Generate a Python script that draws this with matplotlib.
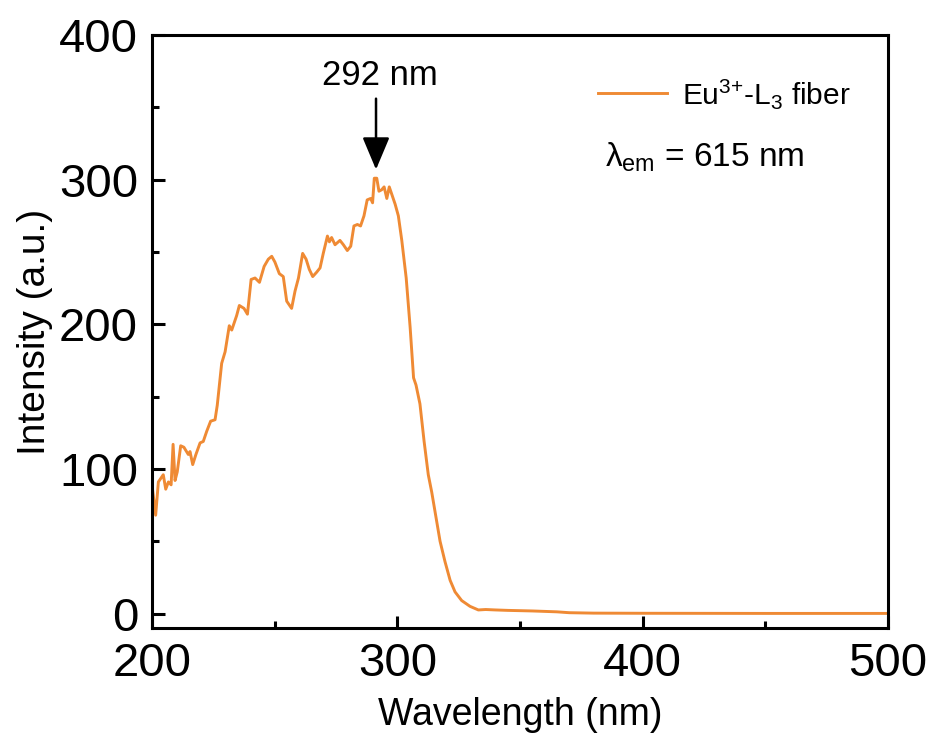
import matplotlib.pyplot as plt
from matplotlib.ticker import MultipleLocator

plt.rcParams['font.family'] = ['Liberation Sans', 'DejaVu Sans']
plt.rcParams['mathtext.fontset'] = 'custom'
plt.rcParams['mathtext.rm'] = 'Liberation Sans'
plt.rcParams['mathtext.it'] = 'Liberation Sans'

# excitation spectrum
wavelength = [200, 201.5, 202.6, 204.6, 205.6, 206.7, 207.8, 208.6, 209.4, 210.3,
              211.7, 213, 214.8, 215.5, 216.6, 217.9, 219.6, 220.9, 222.3, 223.9,
              225.7, 226.6, 228.4, 229.8, 231.5, 232.5, 234.5, 235.6, 237.5, 238.9,
              240.4, 242, 243.8, 245.7, 247.4, 248.8, 250.1, 251.9, 253.5, 254.9,
              256.9, 258.3, 259.7, 261.4, 262.8, 264.1, 265.5, 267.1, 268.5, 269.8,
              271.5, 272.3, 273.2, 274.6, 276.6, 278, 279.6, 281, 282.3, 283.7,
              285, 286.4, 287.7, 289.1, 289.9, 290.6, 291.6, 292.5, 293.6, 294.6,
              295.7, 296.7, 297.7, 299.1, 300.4, 301.8, 303.6, 305.2, 306.6, 307.6,
              309.2, 310.9, 312.6, 314, 315.8, 317.4, 319.4, 321.5, 323.5, 326.2,
              329.6, 333, 336, 340, 345, 350, 355, 360, 365, 370,
              380, 400, 450, 500]
intensity = [89, 68, 91, 96, 86, 91, 89, 117, 92, 98,
             116, 115, 110, 112, 103, 110, 118, 119, 126, 133,
             134, 144, 173, 181, 199, 196, 206, 213, 211, 207,
             231, 232, 229, 240, 245, 247, 243, 235, 233, 216,
             211, 223, 232, 249, 245, 238, 233, 236, 239, 249,
             261, 257, 260, 255, 258, 255, 251, 254, 268, 269,
             268, 275, 286, 287, 284, 301, 301, 292, 293, 295,
             287, 295, 290, 283, 275, 258, 232, 198, 163, 158,
             145, 119, 96, 84, 66, 50, 36, 23, 15, 9,
             5, 2.5, 2.8, 2.5, 2.2, 2.0, 1.8, 1.5, 1.2, 0.6,
             0.3, 0.2, 0.1, 0.1]

fig = plt.figure(figsize=(9.29, 7.42), dpi=100)
ax = fig.add_axes([0.1636, 0.1536, 0.7924, 0.7992])

ax.plot(wavelength, intensity, color='#EF8A34', lw=2.1, label='Eu$^{3{+}}$-L$_3$ fiber')

ax.set_xlim(200, 500)
ax.set_ylim(-10, 400)
ax.xaxis.set_major_locator(MultipleLocator(100))
ax.xaxis.set_minor_locator(MultipleLocator(50))
ax.yaxis.set_major_locator(MultipleLocator(100))
ax.yaxis.set_minor_locator(MultipleLocator(50))
ax.tick_params(which='both', direction='in', width=2.2, labelsize=34, pad=10)
ax.tick_params(which='major', length=9)
ax.tick_params(which='minor', length=5)
for s in ax.spines.values():
    s.set_linewidth(2.2)

ax.set_xlabel('Wavelength (nm)', fontsize=27, labelpad=8)
ax.set_ylabel('Intensity (a.u.)', fontsize=28, labelpad=4)

# peak marker
ax.text(293, 372, '292 nm', fontsize=25, ha='center', va='center')
ax.annotate('', xy=(291.3, 307), xytext=(291.3, 356),
            arrowprops=dict(arrowstyle='-|>,head_length=1.0,head_width=0.42',
                            mutation_scale=20, color='black', lw=1.8,
                            shrinkA=0, shrinkB=0))

ax.legend(loc='upper right', bbox_to_anchor=(0.985, 0.975), frameon=False,
          fontsize=21.5, handlelength=2.3, handletextpad=0.5)
ax.text(0.615, 0.793, r'$\lambda_{\rm em}$ = 615 nm', transform=ax.transAxes,
        fontsize=24, va='center', ha='left')

fig.savefig('out.png', dpi=100)
